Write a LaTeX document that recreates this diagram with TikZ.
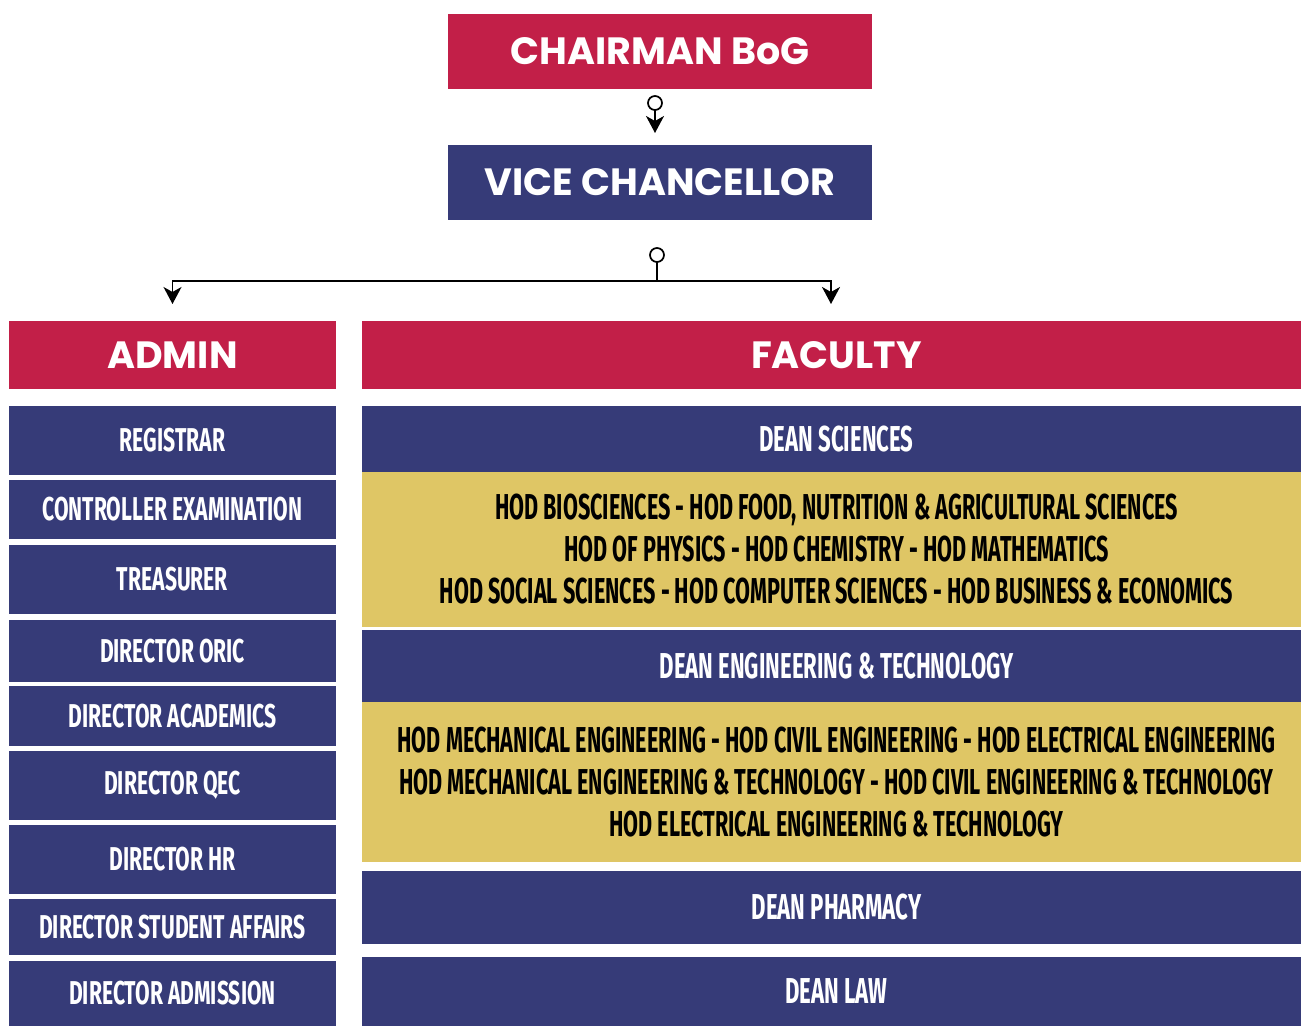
\documentclass[tikz,border=0pt]{standalone}
\usepackage{fontspec}
\usetikzlibrary{arrows.meta}
\newfontfamily\headfont{Poppins}
\newfontfamily\bebasadm[FakeStretch=0.64]{Fira Sans}
\newfontfamily\bebasdean[FakeStretch=0.615]{Fira Sans}
\newfontfamily\bebashod[FakeStretch=0.60]{Fira Sans}
\definecolor{bogred}{RGB}{194,31,72}
\definecolor{bognavy}{RGB}{54,59,120}
\definecolor{boggold}{RGB}{223,198,101}

\begin{document}
\begin{tikzpicture}[x=1pt, y=1pt, scale=0.5, transform shape]
\tikzstyle{basic}=[rectangle, inner sep=0pt, outer sep=0pt]
\tikzstyle{headbox}=[basic, text=white, minimum height=75, minimum width=424, font=\headfont\bfseries\fontsize{38}{40}\selectfont]
\tikzstyle{groupbox}=[basic, fill=bogred, text=white, minimum height=68, font=\headfont\bfseries\fontsize{38}{40}\selectfont]
\tikzstyle{admbox}=[basic, fill=bognavy, text=white, minimum width=327, font=\bebasadm\bfseries\fontsize{33}{40}\selectfont]
\tikzstyle{deanbox}=[basic, fill=bognavy, text=white, minimum width=949, font=\bebasdean\bfseries\fontsize{36}{40}\selectfont]
\tikzstyle{hodbox}=[basic, fill=boggold, text=black, minimum width=949, align=center, font=\bebashod\bfseries\fontsize{36}{42}\selectfont]
\tikzstyle{knob}=[circle, draw, fill=white, line width=0.85pt, minimum size=14, inner sep=0pt]
\tikzstyle{link}=[line width=0.85pt, -{Stealth[length=8.5pt, width=9pt, inset=2.5pt]}]
\useasboundingbox (0,0) rectangle (1301,-1026);

% top
\node[headbox, fill=bogred] (chair) at (660,-51.5) {CHAIRMAN BoG};
\node[headbox, fill=bognavy] (vc) at (660,-182.5) {VICE CHANCELLOR};
\node[knob] (knob0) at (655,-103) {};
\draw[link, shorten >=6pt] (knob0.south) -- (knob0.south |- vc.north);

% groups
\node[groupbox, minimum width=327] (admin) at (172.5,-355) {ADMIN};
\node[groupbox, minimum width=949] (faculty) at (836.5,-355) {FACULTY};
\coordinate (facin) at (831,-321);
\node[knob] (knob1) at (657,-255) {};
\coordinate (bar) at (657,-281);
\draw[link, shorten >=8.5pt] (knob1.south) -- (bar) -| (admin.north);
\draw[link, shorten >=8.5pt] (knob1.south) -- (bar) -| (facin);

% admin column
\node[admbox, minimum height=69] (adm0) at (172.5,-440.5) {REGISTRAR};
\node[admbox, minimum height=59] (adm1) at (172.5,-509.5) {CONTROLLER EXAMINATION};
\node[admbox, minimum height=69] (adm2) at (172.5,-579.5) {TREASURER};
\node[admbox, minimum height=62] (adm3) at (172.5,-651) {DIRECTOR ORIC};
\node[admbox, minimum height=60] (adm4) at (172.5,-716) {DIRECTOR ACADEMICS};
\node[admbox, minimum height=69] (adm5) at (172.5,-785.5) {DIRECTOR QEC};
\node[admbox, minimum height=69] (adm6) at (172.5,-859.5) {DIRECTOR HR};
\node[admbox, minimum height=56] (adm7) at (172.5,-927) {DIRECTOR STUDENT AFFAIRS};
\node[admbox, minimum height=65] (adm8) at (172.5,-993.5) {DIRECTOR ADMISSION};

% faculty column
\node[deanbox, minimum height=66] (fac0) at (836.5,-439) {DEAN SCIENCES};
\node[hodbox, minimum height=155] (fac0o1) at (836.5,-549.5) {HOD BIOSCIENCES - HOD FOOD, NUTRITION \& AGRICULTURAL SCIENCES\\HOD OF PHYSICS - HOD CHEMISTRY - HOD MATHEMATICS\\HOD SOCIAL SCIENCES - HOD COMPUTER SCIENCES - HOD BUSINESS \& ECONOMICS};
\node[deanbox, minimum height=72] (fac1) at (836.5,-666) {DEAN ENGINEERING \& TECHNOLOGY};
\node[hodbox, minimum height=160] (fac1o1) at (836.5,-782) {HOD MECHANICAL ENGINEERING - HOD CIVIL ENGINEERING - HOD ELECTRICAL ENGINEERING\\HOD MECHANICAL ENGINEERING \& TECHNOLOGY - HOD CIVIL ENGINEERING \& TECHNOLOGY\\HOD ELECTRICAL ENGINEERING \& TECHNOLOGY};
\node[deanbox, minimum height=73] (fac2) at (836.5,-907.5) {DEAN PHARMACY};
\node[deanbox, minimum height=69] (fac3) at (836.5,-991.5) {DEAN LAW};
\end{tikzpicture}
\end{document}
